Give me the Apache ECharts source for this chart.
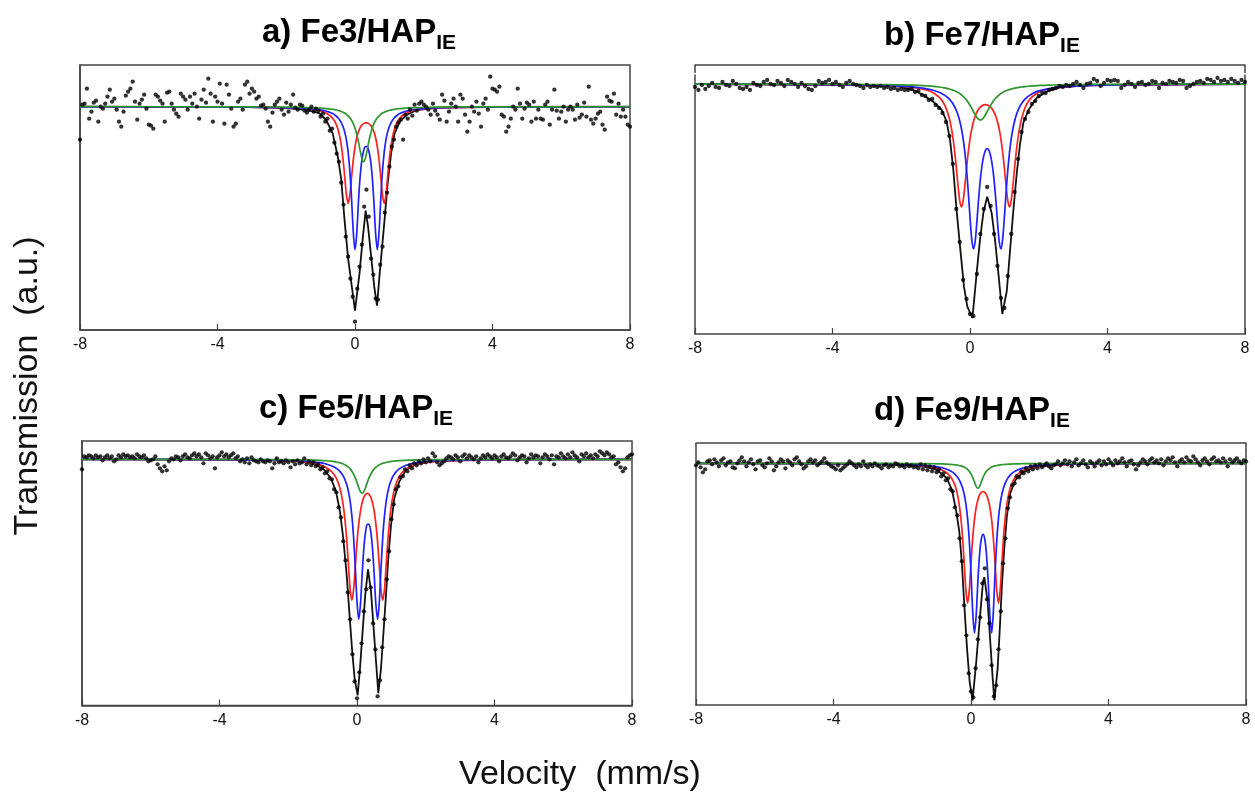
<!DOCTYPE html>
<html><head><meta charset="utf-8">
<script src="https://cdn.jsdelivr.net/npm/echarts@6/dist/echarts.min.js"></script>
<style>html,body{margin:0;padding:0;background:#fff}#c{width:1255px;height:802px}</style>
</head><body><div id="c"></div>
<script>
// ---------- labels ----------
const panelTitles = ['a) Fe3/HAP', 'b) Fe7/HAP', 'c) Fe5/HAP', 'd) Fe9/HAP'];
const titleSub = 'IE';
const yAxisTitle = 'Transmission  (a.u.)';
const xAxisTitle = 'Velocity  (mm/s)';
const velMin = -8, velMax = 8, velTick = 4;

// ---------- panel a : Fe3/HAP_IE ----------
const aGridV = [-8, -4, -2.5, -1.8, -1.4, -1.1, -0.9, -0.75,
 -0.65, -0.6, -0.55, -0.5, -0.45, -0.4, -0.35, -0.3, -0.25, -0.2,
 -0.15, -0.1, -0.05, 0, 0.05, 0.1, 0.15, 0.2, 0.25, 0.3,
 0.35, 0.4, 0.45, 0.5, 0.55, 0.6, 0.65, 0.7, 0.75, 0.8,
 0.85, 0.9, 0.95, 1.0, 1.05, 1.1, 1.15, 1.2, 1.25, 1.3,
 1.4, 1.55, 1.75, 2.1, 2.6, 4, 8];
const aRed = [-0.1, -0.3, -0.7, -1.3, -2.1, -3.5, -5.5, -8.3,
 -11.7, -14.1, -17.5, -22.2, -28.9, -38.4, -52.0, -69.7, -88.1, -96.6,
 -88.5, -70.5, -53.2, -40.1, -31.1, -25.0, -21.0, -18.4, -16.9, -16.2,
 -16.2, -16.9, -18.4, -21.0, -25.0, -31.1, -40.1, -53.2, -70.5, -88.5,
 -96.6, -88.1, -69.7, -52.0, -38.4, -28.9, -22.2, -17.5, -14.1, -11.7,
 -8.3, -5.5, -3.5, -2.0, -1.1, -0.4, -0.1];
const aBlue = [-0.1, -0.3, -0.6, -1.15, -1.8, -2.8, -3.9, -5.4,
 -6.9, -8.0, -9.3, -11.0, -13.0, -15.9, -19.8, -25.2, -33.2, -45.5,
 -64.2, -92.0, -125.3, -143.0, -126.9, -95.4, -69.6, -53.2, -44.0, -40.0,
 -40.0, -44.0, -53.2, -69.6, -95.4, -126.9, -143.0, -125.3, -92.0, -64.2,
 -45.5, -33.2, -25.2, -19.8, -15.9, -13.0, -11.0, -9.3, -8.0, -6.9,
 -5.4, -3.9, -2.8, -1.75, -1.0, -0.3, -0.1];
const aGreen = [0, -0.12, -0.29, -0.52, -0.8, -1.18, -1.62, -2.1,
 -2.6, -2.9, -3.2, -3.7, -4.2, -4.8, -5.5, -6.4, -7.6, -9.1,
 -11, -13.5, -16.9, -21.5, -27.5, -35.2, -44, -51.8, -55, -51.8,
 -44, -35.2, -27.5, -21.5, -16.9, -13.5, -11, -9.1, -7.6, -6.4,
 -5.5, -4.8, -4.2, -3.7, -3.2, -2.9, -2.6, -2.3, -2.1, -1.9,
 -1.6, -1.27, -0.96, -0.63, -0.4, -0.16, -0.04];
const aFitV = [-8, -3, -2, -1.5, -1.2, -1.03, -0.84, -0.65, -0.5, -0.4, -0.3, -0.2, -0.1, 0.0, 0.13, 0.23, 0.31, 0.38, 0.47, 0.56, 0.64, 0.71, 0.79, 0.86, 0.95, 1.05, 1.15, 1.3, 1.5, 1.8, 2.4, 3.5, 8];
const aFit = [0, -0.5, -1.5, -3, -5, -6.7, -13.3, -26.7, -50, -73, -115, -152, -178, -204, -167, -130, -104, -120, -150, -180, -199, -170, -140, -113, -77, -47, -27, -15, -8.3, -3.3, -1, -0.3, 0];
const aDots = [
 -33, 2, 3, 18, -12, -5, 4, 6, -15, 0,
 -2, 3, 10, 17, 5, 8, -3, -15, -20, -5,
 11, 15, 18, 25, 5, -13, 3, 7, 12, -2,
 -18, -19, -22, 12, 10, 6, 3, -15, 14, 15,
 3, -3, -7, -10, 13, 10, 7, -3, 10, 3,
 13, 0, -12, 7, 17, 4, 28, 13, -15, 10,
 5, 23, 3, -17, 22, 12, -2, -20, -17, 5,
 8, -3, 22, 25, 13, 18, 15, 8, 10, 1,
 2, -2, -15, -20, -6, 2, 5, 8, -3, -8,
 4, -5, 2, 12, -1, -3, 2, 1, -4, -6,
 -3, 0, -5, -2, -4, -10, -7, -15, -12, -24,
 -22, -36, -47, -55, -76, -98, -130, -150, -172, -190,
 -215, -182, -160, -138, -100, -83, -110, -152, -168, -192,
 -193, -158, -140, -106, -86, -60, -40, -33, -20, -16,
 -13, -33, -8, -12, -3, -9, 2, -4, 3, 5,
 2, 0, -3, -8, 3, -4, -8, -13, 12, 6,
 -15, -5, 3, 8, 0, -15, 12, 8, -8, -25,
 -15, 0, -5, 5, -7, -20, 3, 8, -3, 30,
 18, 17, 15, 20, -8, -10, -25, -20, -12, 0,
 -3, 18, 3, -12, -2, 4, 2, -15, 5, -12,
 -3, -12, -13, 2, 5, -18, -3, 17, -4, -12,
 -5, 0, -15, -3, 0, -3, -13, 2, -11, -8,
 4, -10, 20, -13, -17, -12, -7, -5, -18, -23,
 10, 6, 5, 13, -8, 3, -10, -3, -10, -18,
 -20];

// ---------- panel b : Fe7/HAP_IE ----------
const bGridV = [-8, -4, -2.8, -2.2, -1.8, -1.5, -1.25, -1.05, -0.9, -0.8, -0.7,
 -0.6, -0.55, -0.5, -0.45, -0.4, -0.35, -0.3, -0.25, -0.2, -0.15,
 -0.1, -0.05, 0, 0.05, 0.1, 0.15, 0.2, 0.25, 0.3, 0.35,
 0.4, 0.45, 0.5, 0.55, 0.6, 0.65, 0.7, 0.75, 0.8, 0.85,
 0.9, 0.95, 1.0, 1.05, 1.1, 1.15, 1.2, 1.25, 1.3, 1.35,
 1.4, 1.45, 1.5, 1.6, 1.7, 1.8, 1.95, 2.15, 2.45, 2.9,
 3.6, 5, 8];
const bRed = [-0.2, -0.6, -1.2, -1.9, -2.9, -4.2, -6.3, -9.2, -13.1, -17.3, -23.9,
 -34.7, -42.6, -53.0, -66.4, -83.0, -101.0, -116.4, -122.8, -116.8, -101.8,
 -84.2, -68.0, -55.1, -45.1, -37.7, -32.2, -28.1, -25.2, -23.1, -21.8,
 -20.9, -20.6, -20.9, -21.8, -23.1, -25.2, -28.1, -32.2, -37.7, -45.1,
 -55.1, -68.0, -84.2, -101.8, -116.8, -122.8, -116.4, -101.0, -83.0, -66.4,
 -53.0, -42.6, -34.7, -23.9, -17.3, -13.1, -9.2, -6.3, -4.0, -2.3,
 -1.3, -0.6, -0.2];
const bBlue = [-0.2, -0.7, -1.2, -1.9, -2.7, -3.6, -4.9, -6.5, -8.3, -9.9, -12.1,
 -15.2, -17.2, -19.5, -22.5, -26.2, -30.8, -36.7, -44.5, -54.7, -68.2,
 -85.9, -108.1, -133.2, -155.2, -165.0, -157.5, -137.8, -115.3, -95.8, -81.5,
 -71.9, -66.4, -64.6, -66.4, -71.9, -81.5, -95.8, -115.3, -137.8, -157.5,
 -165.0, -155.2, -133.2, -108.1, -85.9, -68.2, -54.7, -44.5, -36.7, -30.8,
 -26.2, -22.5, -19.5, -15.2, -12.1, -9.9, -7.4, -5.6, -3.8, -2.5,
 -1.4, -0.7, -0.2];
const bGreen = [-0.08, -0.25, -0.48, -0.73, -1.03, -1.39, -1.85, -2.4, -3.0, -3.5, -4.1,
 -5.0, -5.5, -6.1, -6.7, -7.5, -8.45, -9.5, -10.8, -12.3, -14.0,
 -16.1, -18.5, -21.2, -24.3, -27.5, -30.7, -33.4, -35.3, -36, -35.3,
 -33.4, -30.7, -27.5, -24.3, -21.2, -18.5, -16.1, -14.0, -12.3, -10.8,
 -9.5, -8.45, -7.5, -6.7, -6.1, -5.5, -5.0, -4.5, -4.1, -3.8,
 -3.5, -3.2, -3.0, -2.56, -2.23, -1.96, -1.64, -1.32, -0.98, -0.68,
 -0.43, -0.21, -0.08];
const bFitV = [-8, -3, -2.04, -1.65, -1.36, -1.07, -0.82, -0.68, -0.58, -0.485, -0.39, -0.29, -0.175, -0.078, 0.07, 0.194, 0.29, 0.388, 0.5, 0.63, 0.728, 0.825, 0.94, 1.07, 1.164, 1.26, 1.358, 1.455, 1.55, 1.70, 1.94, 2.23, 2.62, 3.5, 8];
const bFit = [0, -1, -2.7, -6, -11, -17.7, -26, -37.7, -56, -86, -126, -162.7, -202.7, -222.7, -234, -189, -156, -129, -112.7, -129, -156, -189, -230, -207, -167, -127, -90, -60, -39, -26, -14, -7.7, -3.3, -1, 0];
const bDots = [
 -3, -6, -1, -5, -2, 1, -3, -4, 2, -1,
 -2, 3, 0, -4, -5, -3, -6, 1, -1, -2,
 2, 4, 0, -1, 3, 1, -2, 4, 2, 0,
 -3, 1, -2, -5, -6, -2, 3, 1, 2, 4,
 0, 2, -1, -3, 1, 3, 0, -1, -2, -4,
 -1, -3, -2, -3, -2, -4, -3, -5, -4, -6,
 -5, -6, -6, -5, -8, -7, -11, -12, -16, -15,
 -21, -24, -29, -38, -52, -80, -125, -158, -196, -215,
 -230, -232, -190, -150, -125, -103, -122, -150, -182, -214,
 -224, -192, -150, -108, -75, -48, -35, -28, -20, -17,
 -12, -9, -9, -6, -5, -4, -2, -3, -1, -2,
 0, 2, -1, -4, 0, 1, 5, 3, -2, 1,
 4, 3, 4, 3, -4, -1, 2, 0, -3, 1,
 2, -1, 0, 3, 2, -4, 1, 0, 3, 2,
 1, 4, 3, -4, -2, 0, 2, 3, 1, 5,
 4, 2, 6, 3, 4, 2, 5, 3, 1, 4,
 2];

// ---------- panel c : Fe5/HAP_IE ----------
const cGridV = [-8, -4, -2.5, -1.8, -1.4, -1.1, -0.9, -0.75,
 -0.65, -0.6, -0.55, -0.5, -0.45, -0.4, -0.35, -0.3, -0.25, -0.2,
 -0.15, -0.1, -0.05, 0, 0.05, 0.1, 0.15, 0.2, 0.25, 0.3,
 0.35, 0.4, 0.45, 0.5, 0.55, 0.6, 0.65, 0.7, 0.75, 0.8,
 0.85, 0.9, 0.95, 1.0, 1.05, 1.1, 1.15, 1.2, 1.25,
 1.35, 1.5, 1.7, 2.0, 2.5, 4, 8];
const cRed = [-0.1, -0.4, -1.1, -2.0, -3.4, -5.3, -8.1, -11.8,
 -16.1, -19.1, -23.2, -28.5, -35.8, -46.0, -60.4, -80.1, -105.1, -129.7,
 -141.0, -130.7, -107.2, -83.3, -64.8, -51.8, -43.2, -37.9, -35.0, -34.0,
 -35.0, -37.9, -43.2, -51.8, -64.8, -83.3, -107.2, -130.7, -141.0, -129.7,
 -105.1, -80.1, -60.4, -46.0, -35.8, -28.5, -23.2, -19.1, -16.1,
 -11.8, -8.1, -5.3, -3.4, -1.8, -0.5, -0.1];
const cBlue = [-0.1, -0.3, -0.8, -1.4, -2.2, -3.4, -4.7, -6.4,
 -8.0, -9.1, -10.4, -12.0, -14.1, -16.8, -20.4, -25.2, -32.0, -41.8,
 -56.2, -77.6, -108.1, -142.2, -160.0, -145.5, -114.9, -88.7, -72.4, -65.0,
 -65.0, -72.4, -88.7, -114.9, -145.5, -160.0, -142.2, -108.1, -77.6, -56.2,
 -41.8, -32.0, -25.2, -20.4, -16.8, -14.1, -12.0, -10.4, -9.1,
 -7.2, -5.2, -3.6, -2.4, -1.35, -0.3, -0.1];
const cGreen = [-0.03, -0.1, -0.23, -0.43, -0.67, -1.0, -1.43, -1.9,
 -2.4, -2.7, -3.06, -3.5, -4.0, -4.7, -5.5, -6.6, -7.9, -9.6,
 -11.9, -14.8, -18.6, -23.2, -28.2, -32.3, -34, -32.3, -28.2, -23.2,
 -18.6, -14.8, -11.9, -9.6, -7.9, -6.6, -5.5, -4.7, -4.0, -3.5,
 -3.06, -2.7, -2.4, -2.1, -1.9, -1.7, -1.57, -1.43, -1.3,
 -1.1, -0.88, -0.67, -0.47, -0.3, -0.11, -0.03];
const cFitV = [-8, -3, -2.1, -1.58, -1.19, -0.95, -0.756, -0.61, -0.495, -0.40, -0.30, -0.224, -0.146, -0.07, 0.018, 0.087, 0.163, 0.24, 0.32, 0.407, 0.484, 0.553, 0.62, 0.698, 0.765, 0.843, 0.91, 0.99, 1.085, 1.23, 1.425, 1.716, 2.1, 3, 8];
const cFit = [0, -0.5, -1, -1.7, -5.7, -10.7, -19, -32.3, -52.3, -79, -115.7, -152.3, -189, -219, -236, -209, -172.3, -135.7, -110, -132, -169, -202, -234, -209, -176, -136, -99, -65.7, -39, -22.3, -10.7, -5, -1.7, -0.5, 0];
const cDots = [
 -10, 3, 2, 4, 3, 1, 4, 2, 3, -1,
 2, 4, 1, 3, -2, 0, 4, 2, 5, 3,
 4, 2, 3, 1, 5, 3, 2, 4, 1, -2,
 -1, 0, 3, -5, -9, -12, -7, -11, -2, 1,
 0, 3, 2, -1, 3, 5, 2, 1, 4, 6,
 3, 5, 2, -4, 6, 4, 1, 3, -9, 2,
 4, 7, 3, 5, 2, 4, 6, 1, 3, -2,
 0, -3, 1, -4, 2, -1, -2, -3, 0, -2,
 -3, -1, -2, -9, -4, 1, -3, -2, -4, -1,
 -3, -8, -2, -5, -1, -4, -3, 1, -5, -2,
 -6, -3, -7, -5, -10, -8, -14, -12, -19, -20,
 -30, -33, -48, -58, -82, -101, -133, -160, -195, -222,
 -239, -213, -184, -152, -130, -101, -128, -164, -190, -237,
 -221, -188, -160, -120, -92, -60, -45, -30, -27, -18,
 -17, -10, -12, -6, -9, -4, -6, -2, -4, 0,
 -3, 1, -2, 6, 3, -3, -6, -4, -2, 1,
 3, 2, 0, 4, 2, -2, 3, 5, 1, 4,
 2, 0, 3, -3, 1, 4, 2, 5, 3, 1,
 4, 2, -2, 3, 5, 2, 1, 3, 6, 4,
 -1, 2, 4, 3, -3, 1, 5, 2, 4, 3,
 -4, 2, 5, 3, 0, 4, -5, 3, 2, 6,
 3, 1, 5, 2, 7, 4, 2, -2, 5, 3,
 6, 2, 4, 1, 5, 3, 8, 6, 4, 7,
 5, 2, 3, -5, -3, -8, -12, -9, 2, 4,
 5];

// ---------- panel d : Fe9/HAP_IE ----------
const dGridV = [-8, -4, -2.5, -1.8, -1.4, -1.1, -0.9, -0.75,
 -0.65, -0.6, -0.55, -0.5, -0.45, -0.4, -0.35, -0.3, -0.25, -0.2,
 -0.15, -0.1, -0.05, 0, 0.05, 0.1, 0.15, 0.2, 0.25, 0.3,
 0.35, 0.4, 0.45, 0.5, 0.55, 0.6, 0.65, 0.7, 0.75, 0.8,
 0.85, 0.9, 0.95, 1.0, 1.05, 1.1, 1.15, 1.2, 1.25, 1.3, 1.35,
 1.45, 1.6, 1.8, 2.1, 2.5, 3.2, 4.7, 8];
const dRed = [-0.1, -0.3, -0.85, -1.6, -2.5, -4.0, -5.9, -8.4,
 -11.3, -13.2, -15.8, -19.3, -23.8, -30.3, -39.5, -52.8, -72.1, -98.4,
 -126.3, -139.8, -127.2, -100.1, -74.7, -56.4, -44.2, -36.4, -31.6, -29.0,
 -28.2, -29.0, -31.6, -36.4, -44.2, -56.4, -74.7, -100.1, -127.2, -139.8,
 -126.3, -98.4, -72.1, -52.8, -39.5, -30.3, -23.8, -19.3, -15.8, -13.2, -11.3,
 -8.4, -5.9, -4.0, -2.5, -1.6, -0.85, -0.3, -0.1];
const dBlue = [-0.1, -0.3, -0.7, -1.3, -2.0, -2.9, -4.1, -5.4,
 -6.7, -7.6, -8.6, -9.9, -11.5, -13.5, -16.0, -19.5, -24.2, -30.7,
 -40.4, -54.9, -77.1, -109.7, -148.5, -169.7, -152.5, -118.1, -90.9, -75.7,
 -71.0, -75.7, -90.9, -118.1, -152.5, -169.7, -148.5, -109.7, -77.1, -54.9,
 -40.4, -30.7, -24.2, -19.5, -16.0, -13.5, -11.5, -9.9, -8.6, -7.6, -6.7,
 -5.4, -4.1, -2.9, -2.0, -1.3, -0.7, -0.3, -0.1];
const dGreen = [0, -0.04, -0.1, -0.18, -0.28, -0.43, -0.58, -0.78,
 -0.96, -1.08, -1.22, -1.4, -1.6, -1.86, -2.2, -2.6, -3.1, -3.8,
 -4.8, -6.1, -7.9, -10.5, -14.1, -18.6, -23.0, -25, -23.0, -18.6,
 -14.1, -10.5, -7.9, -6.1, -4.8, -3.8, -3.1, -2.6, -2.2, -1.86,
 -1.6, -1.4, -1.22, -1.08, -0.96, -0.86, -0.78, -0.7, -0.64, -0.58, -0.54,
 -0.46, -0.36, -0.28, -0.2, -0.14, -0.08, -0.04, 0];
const dFitV = [-8, -3, -2, -1.38, -0.99, -0.70, -0.553, -0.428, -0.34, -0.262, -0.195, -0.116, -0.04, 0.045, 0.154, 0.25, 0.35, 0.39, 0.483, 0.56, 0.63, 0.68, 0.775, 0.834, 0.9, 0.968, 1.047, 1.143, 1.29, 1.53, 1.92, 2.5, 3.5, 8];
const dFit = [0, -0.5, -1.5, -3.3, -6.7, -15, -26.7, -48.3, -68.3, -101.7, -141.7, -185, -218.3, -237, -198, -158, -118, -114, -138, -178, -215, -237, -205, -168, -121.7, -85, -51.7, -30, -16.7, -8.3, -3.3, -1.2, -0.4, 0];
const dDots = [
 -2, 1, -4, -9, -6, 2, 3, -1, 4, 1,
 -3, 3, 5, -2, 1, 2, -4, -5, 0, 3,
 6, 2, -3, 1, 4, -1, -6, 2, 3, -2,
 -4, 0, 5, 2, -7, -3, 1, 4, 2, -5,
 3, 1, -2, 4, 6, 2, -1, -5, -3, 2,
 4, 1, 3, -2, 0, 2, 5, 1, -1, -3,
 -4, -6, -2, -7, -5, -3, -1, 2, 0, -2,
 -4, -1, -3, 2, -2, -4, -1, -3, 0, -2,
 -3, -5, -2, -1, -4, -2, -3, 0, -1, -3,
 -2, -4, -1, -3, -2, -4, -3, -5, -1, -6,
 -2, -7, -3, -8, -4, -9, -6, -13, -10, -17,
 -15, -26, -28, -44, -52, -75, -98, -142, -172, -210,
 -228, -234, -205, -176, -154, -120, -105, -136, -160, -202,
 -233, -222, -186, -148, -100, -75, -45, -34, -22, -20,
 -13, -14, -8, -10, -5, -8, -3, -6, -2, -5,
 -1, -4, -2, 0, -3, -5, -2, -1, 2, -2,
 0, 3, -1, 2, -3, 1, 4, -2, 0, 3,
 -1, -4, 2, 0, -3, 1, 3, -2, 2, -1,
 4, 1, -2, 3, 0, 2, 5, 1, -3, 2,
 3, -1, -6, -2, 1, 4, 2, -1, 3, 5,
 1, 3, 0, 4, -2, 2, 5, 3, 6, 1,
 -3, 2, 4, 1, 6, 3, 2, 7, 4, 1,
 -2, 3, 5, 2, -1, 4, 6, 2, 3, 1,
 5, 2, -3, 4, 1, 3, 5, 2, 0, 3,
 2];

// ---------- layout ----------
const panels = [
  {title: panelTitles[0], dots: aDots, gv: aGridV, red: aRed, blue: aBlue, green: aGreen, fv: aFitV, fit: aFit,
   yMin: -223.3, yMax: 41.7, grid: {left: 80, top: 65, width: 550, height: 265}, open: false, tx: 359, ty: 35},
  {title: panelTitles[1], dots: bDots, gv: bGridV, red: bRed, blue: bBlue, green: bGreen, fv: bFitV, fit: bFit,
   yMin: -250, yMax: 9, grid: {left: 695, top: 75, width: 550, height: 259}, open: true, off: 10, tx: 982, ty: 38},
  {title: panelTitles[2], dots: cDots, gv: cGridV, red: cRed, blue: cBlue, green: cGreen, fv: cFitV, fit: cFit,
   yMin: -246.2, yMax: 18.3, grid: {left: 82, top: 441, width: 550, height: 264.5}, open: false, tx: 356, ty: 411},
  {title: panelTitles[3], dots: dDots, gv: dGridV, red: dRed, blue: dBlue, green: dGreen, fv: dFitV, fit: dFit,
   yMin: -241.7, yMax: 12.3, grid: {left: 696, top: 451, width: 550, height: 254}, open: true, off: 8, tx: 972, ty: 413}
];

const FONT = '"Liberation Sans", Arial, Helvetica, sans-serif';
const frameCol = '#444';
const grids = [], xAxes = [], yAxes = [], series = [], graphics = [];
const zip = (xs, ys) => xs.map((x, k) => [x, ys[k]]);

panels.forEach((p, i) => {
  grids.push(Object.assign({show: !p.open, borderColor: frameCol, borderWidth: 1.5, backgroundColor: 'transparent'}, p.grid));
  const xi = xAxes.length;
  xAxes.push({gridIndex: i, type: 'value', min: velMin, max: velMax, interval: velTick,
    axisLine: {show: true, onZero: false, lineStyle: {color: frameCol, width: 1.5}},
    axisTick: {show: true, inside: true, length: 6, lineStyle: {color: frameCol, width: 1.2}},
    axisLabel: {color: '#111', fontSize: 16, fontFamily: FONT, margin: 7},
    splitLine: {show: false}});
  const yi = yAxes.length;
  yAxes.push({gridIndex: i, type: 'value', min: p.yMin, max: p.yMax,
    axisLine: {show: true, onZero: false, lineStyle: {color: frameCol, width: 1.5}},
    axisTick: {show: false}, axisLabel: {show: false}, splitLine: {show: false}});
  if (p.open) {
    xAxes.push({gridIndex: i, type: 'value', position: 'top', offset: p.off, min: velMin, max: velMax, interval: velMax - velMin,
      axisLine: {show: true, onZero: false, lineStyle: {color: frameCol, width: 1.5}},
      axisTick: {show: true, inside: true, length: 8, lineStyle: {color: frameCol, width: 1.5}},
      axisLabel: {show: false}, splitLine: {show: false}});
    yAxes.push({gridIndex: i, type: 'value', position: 'right', min: p.yMin, max: p.yMax,
      axisLine: {show: true, onZero: false, lineStyle: {color: frameCol, width: 1.5}},
      axisTick: {show: false}, axisLabel: {show: false}, splitLine: {show: false}});
  }
  const step = (velMax - velMin) / (p.dots.length - 1);
  const lineBase = {type: 'line', xAxisIndex: xi, yAxisIndex: yi, showSymbol: false, symbol: 'none', silent: true, animation: false};
  series.push(Object.assign({}, lineBase, {data: zip(p.fv, p.fit), z: 2, lineStyle: {color: '#111', width: 1.8}}));
  series.push(Object.assign({}, lineBase, {data: zip(p.gv, p.red), z: 3, smooth: 0.3, lineStyle: {color: '#ff2020', width: 1.7}}));
  series.push(Object.assign({}, lineBase, {data: zip(p.gv, p.blue), z: 3, smooth: 0.3, lineStyle: {color: '#2020ff', width: 1.7}}));
  series.push(Object.assign({}, lineBase, {data: zip(p.gv, p.green), z: 4, smooth: 0.3, lineStyle: {color: '#2e962e', width: 1.7}}));
  series.push({type: 'scatter', xAxisIndex: xi, yAxisIndex: yi, silent: true, animation: false, z: 6,
    symbolSize: 4.3, itemStyle: {color: '#000'},
    data: p.dots.map((y, k) => [velMin + k * step, y])});
  graphics.push({type: 'text', x: p.tx, y: p.ty, z: 10, silent: true,
    style: {text: '{m|' + p.title + '}{s|' + titleSub + '}',
      align: 'center', verticalAlign: 'middle', textAlign: 'center', textVerticalAlign: 'middle',
      rich: {
        m: {fontSize: 33, fontWeight: 'bold', fontFamily: FONT, fill: '#000', color: '#000', lineHeight: 38, verticalAlign: 'top'},
        s: {fontSize: 21, fontWeight: 'bold', fontFamily: FONT, fill: '#000', color: '#000', lineHeight: 21, verticalAlign: 'bottom'}
      }}});
});

graphics.push({type: 'text', x: 28, y: 386, rotation: Math.PI / 2, silent: true,
  style: {text: yAxisTitle, font: '34px ' + FONT, fill: '#111', align: 'center', verticalAlign: 'middle', textAlign: 'center', textVerticalAlign: 'middle'}});
graphics.push({type: 'text', x: 580, y: 775, silent: true,
  style: {text: xAxisTitle, font: '34px ' + FONT, fill: '#111', align: 'center', verticalAlign: 'middle', textAlign: 'center', textVerticalAlign: 'middle'}});

const chart = echarts.init(document.getElementById('c'), null, {renderer: 'canvas'});
chart.setOption({
  animation: false,
  backgroundColor: '#fff',
  grid: grids, xAxis: xAxes, yAxis: yAxes, series: series, graphic: graphics
});
</script>
</body></html>
